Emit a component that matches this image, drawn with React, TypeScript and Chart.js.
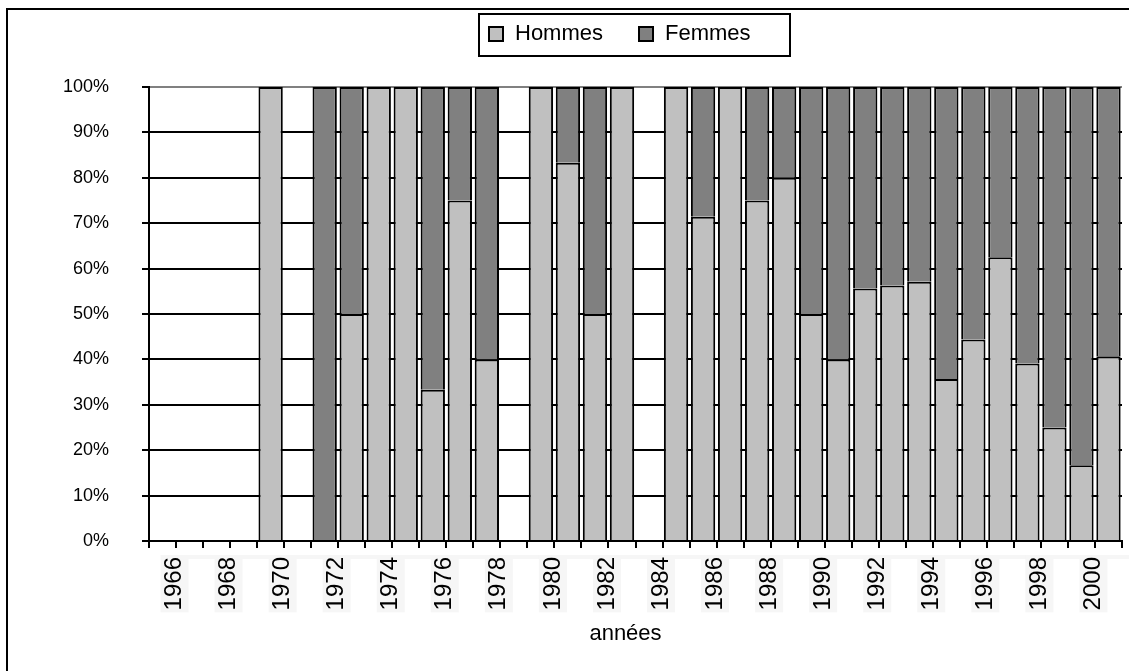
import React, { useEffect, useRef } from 'react';
import { Chart, registerables } from 'chart.js';

Chart.register(...registerables);

const years = [
  '1966', '1967', '1968', '1969', '1970', '1971', '1972', '1973', '1974', '1975',
  '1976', '1977', '1978', '1979', '1980', '1981', '1982', '1983', '1984', '1985',
  '1986', '1987', '1988', '1989', '1990', '1991', '1992', '1993', '1994', '1995',
  '1996', '1997', '1998', '1999', '2000', '2001',
];

const hommes: (number | null)[] = [
  null, null, null, null, 100, null, 0, 50, 100, 100,
  33.3, 75, 40, null, 100, 83.3, 50, 100, null, 100,
  71.4, 100, 75, 80, 50, 40, 55.6, 56.3, 57.1, 35.7,
  44.4, 62.5, 39.1, 25, 16.7, 40.7,
];

const femmes: (number | null)[] = [
  null, null, null, null, 0, null, 100, 50, 0, 0,
  66.7, 25, 60, null, 0, 16.7, 50, 0, null, 0,
  28.6, 0, 25, 20, 50, 60, 44.4, 43.7, 42.9, 64.3,
  55.6, 37.5, 60.9, 75, 83.3, 59.3,
];

const seriesNames = ['Hommes', 'Femmes'];
const axisTitle = 'années';

const FONT = "'Liberation Sans', Arial, sans-serif";

const framePlugin = {
  id: 'frame',
  beforeDraw(chart: any) {
    const ctx = chart.ctx;
    ctx.save();
    ctx.fillStyle = '#ffffff';
    ctx.fillRect(0, 0, chart.width, chart.height);
    ctx.lineWidth = 2;
    ctx.strokeStyle = '#000000';
    ctx.strokeRect(7, 9, chart.width + 40, chart.height + 40);
    ctx.restore();
  },
  afterDraw(chart: any) {
    const ctx = chart.ctx;
    const ca = chart.chartArea;
    ctx.save();
    ctx.font = `22px ${FONT}`;
    ctx.fillStyle = '#000000';
    ctx.textAlign = 'center';
    ctx.textBaseline = 'middle';
    ctx.fillText(axisTitle, (ca.left + ca.right) / 2 - 10, 634);
    ctx.restore();
  },
};

const legendPlugin = {
  id: 'boxLegend',
  afterDraw(chart: any) {
    const ctx = chart.ctx;
    const ca = chart.chartArea;
    const cx = (ca.left + ca.right) / 2;
    const w = 311;
    const h = 42;
    const x0 = Math.round(cx - w / 2) - 1;
    const y0 = 14;
    ctx.save();
    ctx.fillStyle = '#ffffff';
    ctx.fillRect(x0, y0, w, h);
    ctx.lineWidth = 2;
    ctx.strokeStyle = '#000000';
    ctx.strokeRect(x0, y0, w, h);
    ctx.font = `22px ${FONT}`;
    ctx.textBaseline = 'middle';
    ctx.textAlign = 'left';
    const cy = y0 + h / 2 - 1;
    let x = x0 + 10;
    chart.data.datasets.forEach((ds: any) => {
      ctx.fillStyle = ds.backgroundColor;
      ctx.fillRect(x, cy - 7, 14, 14);
      ctx.lineWidth = 2;
      ctx.strokeStyle = '#000000';
      ctx.strokeRect(x, cy - 7, 14, 14);
      ctx.fillStyle = '#000000';
      ctx.fillText(ds.label, x + 26, cy);
      x += 26 + ctx.measureText(ds.label).width + 36;
    });
    ctx.restore();
  },
};

export default function App() {
  const ref = useRef<HTMLCanvasElement | null>(null);

  useEffect(() => {
    if (!ref.current) return;
    const chart = new Chart(ref.current, {
      type: 'bar',
      data: {
        labels: years,
        datasets: [
          {
            label: seriesNames[0],
            data: hommes,
            backgroundColor: '#c0c0c0',
            borderColor: '#000000',
            borderWidth: 2,
            barPercentage: 0.9,
            categoryPercentage: 1.0,
          },
          {
            label: seriesNames[1],
            data: femmes,
            backgroundColor: '#808080',
            borderColor: '#000000',
            borderWidth: 2,
            barPercentage: 0.9,
            categoryPercentage: 1.0,
          },
        ],
      },
      options: {
        responsive: false,
        animation: false,
        devicePixelRatio: 1,
        layout: { padding: { left: 0, top: 87, right: 7, bottom: 0 } },
        plugins: {
          legend: { display: false },
          tooltip: { enabled: false },
        },
        scales: {
          x: {
            stacked: true,
            afterFit: (s: any) => {
              s.height = 130;
              s.paddingLeft = 0;
              s.paddingRight = 0;
            },
            grid: {
              display: true,
              drawOnChartArea: false,
              drawTicks: true,
              tickLength: 7,
              color: '#000000',
              lineWidth: 2,
              offset: true,
            },
            border: { display: true, color: '#000000', width: 2 },
            ticks: {
              autoSkip: false,
              minRotation: 90,
              maxRotation: 90,
              padding: 9,
              color: '#000000',
              font: { family: FONT, size: 24, lineHeight: 1 },
              showLabelBackdrop: true,
              backdropColor: '#f6f6f6',
              backdropPadding: 2,
              callback: (_v: any, i: number) => (Number(years[i]) % 2 === 0 ? years[i] : ''),
            },
            title: { display: false },
          },
          y: {
            stacked: true,
            min: 0,
            max: 100,
            afterFit: (s: any) => {
              s.width = 149;
              s.paddingTop = 0;
              s.paddingBottom = 0;
            },
            grid: {
              color: (c: any) => (c.tick && c.tick.value === 100 ? '#808080' : '#000000'),
              tickColor: '#000000',
              lineWidth: 2,
              tickLength: 7,
              drawTicks: true,
            },
            border: { display: true, color: '#000000', width: 2 },
            ticks: {
              stepSize: 10,
              padding: 33,
              color: '#000000',
              font: { family: FONT, size: 18 },
              callback: (v: any) => `${v}%`,
            },
          },
        },
      } as any,
      plugins: [framePlugin, legendPlugin],
    });
    return () => chart.destroy();
  }, []);

  return (
    <div style={{ position: 'absolute', left: 0, top: 0, width: 1129, height: 671, overflow: 'hidden' }}>
      <canvas ref={ref} width={1129} height={671} style={{ display: 'block', width: 1129, height: 671 }} />
    </div>
  );
}
